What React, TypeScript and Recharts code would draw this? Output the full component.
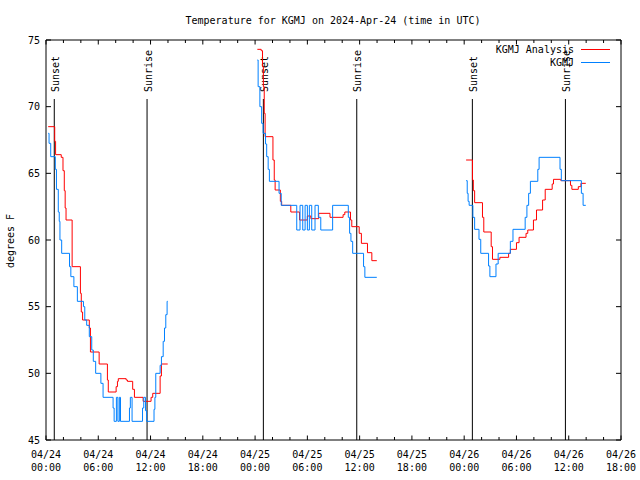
import { LineChart, Line, XAxis, YAxis, ReferenceLine } from 'recharts';

// hours since 2024-04-24 00:00 UTC -> temperature (F); null breaks the line
const analysis = [
    { t: 0.25, v: 68.5 }, { t: 1.0, v: 67.4 }, { t: 1.1, v: 66.4 }, { t: 1.75, v: 66.2 },
    { t: 1.95, v: 65.2 }, { t: 2.1, v: 63.7 }, { t: 2.2, v: 62.4 }, { t: 2.3, v: 61.5 },
    { t: 3.0, v: 58.0 }, { t: 3.95, v: 56.0 }, { t: 4.05, v: 54.6 }, { t: 4.2, v: 54.0 },
    { t: 4.97, v: 53.4 }, { t: 5.1, v: 51.6 }, { t: 6.1, v: 50.7 }, { t: 7.05, v: 49.5 },
    { t: 7.15, v: 48.6 }, { t: 8.05, v: 49.0 }, { t: 8.2, v: 49.4 }, { t: 8.3, v: 49.6 },
    { t: 9.2, v: 49.5 }, { t: 9.35, v: 49.4 }, { t: 9.95, v: 48.8 }, { t: 10.15, v: 48.2 },
    { t: 11.15, v: 47.9 }, { t: 12.06, v: 48.2 }, { t: 12.25, v: 48.5 }, { t: 13.1, v: 49.8 },
    { t: 13.25, v: 50.7 }, { t: 13.97, v: 50.7 },
    { t: 19, v: null },
    { t: 24.26, v: 74.3 }, { t: 24.7, v: 74.2 }, { t: 24.85, v: 73.0 }, { t: 24.95, v: 71.5 },
    { t: 25.05, v: 69.5 }, { t: 25.15, v: 67.75 }, { t: 26.05, v: 66.0 }, { t: 26.2, v: 64.5 },
    { t: 26.3, v: 63.75 }, { t: 26.9, v: 62.9 }, { t: 27.05, v: 62.6 }, { t: 28.1, v: 62.1 },
    { t: 29.1, v: 61.5 }, { t: 30.0, v: 61.8 }, { t: 30.4, v: 61.6 }, { t: 31.3, v: 62.0 },
    { t: 32.6, v: 61.7 }, { t: 34.1, v: 61.9 }, { t: 34.3, v: 62.1 }, { t: 34.95, v: 61.5 },
    { t: 35.1, v: 61.0 }, { t: 35.95, v: 60.5 }, { t: 36.2, v: 59.75 }, { t: 36.9, v: 59.05 },
    { t: 37.4, v: 58.45 }, { t: 37.97, v: 58.45 },
    { t: 43, v: null },
    { t: 48.22, v: 66.0 }, { t: 48.95, v: 64.5 }, { t: 49.05, v: 63.7 }, { t: 49.2, v: 62.8 },
    { t: 50.1, v: 61.7 }, { t: 50.25, v: 60.6 }, { t: 51.1, v: 59.5 }, { t: 51.25, v: 58.55 },
    { t: 52.1, v: 58.7 }, { t: 53.1, v: 59.0 }, { t: 53.3, v: 59.3 }, { t: 54.0, v: 59.8 },
    { t: 54.3, v: 60.2 }, { t: 55.1, v: 60.5 }, { t: 55.3, v: 60.75 }, { t: 55.95, v: 61.5 },
    { t: 56.3, v: 62.25 }, { t: 57.0, v: 63.0 }, { t: 57.3, v: 63.8 }, { t: 58.1, v: 64.2 },
    { t: 58.25, v: 64.55 }, { t: 59.1, v: 64.45 }, { t: 60.2, v: 64.1 }, { t: 60.36, v: 63.8 },
    { t: 61.1, v: 64.0 }, { t: 61.4, v: 64.25 }, { t: 61.96, v: 64.25 },
];

const observed = [
    { t: 0.26, v: 68.0 }, { t: 0.35, v: 67.25 }, { t: 0.54, v: 66.25 }, { t: 1.07, v: 65.3 },
    { t: 1.2, v: 63.8 }, { t: 1.41, v: 62.1 }, { t: 1.52, v: 61.4 }, { t: 1.6, v: 60.0 },
    { t: 1.8, v: 59.0 }, { t: 2.7, v: 58.0 }, { t: 2.85, v: 57.25 }, { t: 3.2, v: 56.5 },
    { t: 3.6, v: 55.4 }, { t: 4.3, v: 55.0 }, { t: 4.45, v: 54.0 }, { t: 4.67, v: 53.6 },
    { t: 4.97, v: 52.75 }, { t: 5.25, v: 51.75 }, { t: 5.43, v: 50.9 }, { t: 5.7, v: 50.0 },
    { t: 6.3, v: 49.25 }, { t: 6.55, v: 48.2 }, { t: 7.7, v: 47.4 }, { t: 7.82, v: 46.4 },
    { t: 8.08, v: 48.2 }, { t: 8.25, v: 46.4 }, { t: 8.42, v: 48.2 }, { t: 8.55, v: 46.4 },
    { t: 9.58, v: 47.4 }, { t: 9.68, v: 48.2 }, { t: 9.88, v: 46.4 }, { t: 11.08, v: 47.4 },
    { t: 11.22, v: 48.2 }, { t: 11.42, v: 47.2 }, { t: 11.55, v: 46.4 }, { t: 12.4, v: 47.3 },
    { t: 12.5, v: 48.2 }, { t: 12.6, v: 50.0 }, { t: 13.1, v: 50.6 }, { t: 13.25, v: 51.25 },
    { t: 13.45, v: 52.4 }, { t: 13.6, v: 53.4 }, { t: 13.75, v: 54.4 }, { t: 13.9, v: 55.4 },
    { t: 13.97, v: 55.4 },
    { t: 19, v: null },
    { t: 24.26, v: 73.5 }, { t: 24.35, v: 71.5 }, { t: 24.55, v: 70.0 }, { t: 24.75, v: 68.75 },
    { t: 24.92, v: 68.0 }, { t: 25.2, v: 67.2 }, { t: 25.33, v: 66.25 }, { t: 25.5, v: 65.3 },
    { t: 25.64, v: 64.4 }, { t: 26.75, v: 63.5 }, { t: 27.0, v: 62.6 }, { t: 28.78, v: 60.75 },
    { t: 29.16, v: 62.6 }, { t: 29.47, v: 60.75 }, { t: 29.74, v: 62.6 }, { t: 30.0, v: 60.75 },
    { t: 30.23, v: 62.6 }, { t: 30.5, v: 60.75 }, { t: 30.88, v: 62.6 }, { t: 31.26, v: 61.7 },
    { t: 31.54, v: 60.75 }, { t: 32.9, v: 62.6 }, { t: 34.7, v: 61.7 }, { t: 34.85, v: 60.5 },
    { t: 35.0, v: 59.9 }, { t: 35.2, v: 59.0 }, { t: 36.45, v: 58.0 }, { t: 36.6, v: 57.2 },
    { t: 37.97, v: 57.2 },
    { t: 43, v: null },
    { t: 48.22, v: 64.45 }, { t: 48.35, v: 63.5 }, { t: 48.45, v: 62.9 }, { t: 48.57, v: 62.6 },
    { t: 49.0, v: 61.7 }, { t: 49.2, v: 60.8 }, { t: 49.7, v: 60.05 }, { t: 49.9, v: 59.0 },
    { t: 50.8, v: 58.05 }, { t: 50.95, v: 57.25 }, { t: 51.65, v: 58.2 }, { t: 51.9, v: 59.0 },
    { t: 53.3, v: 59.9 }, { t: 53.6, v: 60.8 }, { t: 55.0, v: 61.7 }, { t: 55.2, v: 62.6 },
    { t: 55.4, v: 63.5 }, { t: 55.6, v: 64.4 }, { t: 56.45, v: 65.3 }, { t: 56.6, v: 66.2 },
    { t: 59.0, v: 65.3 }, { t: 59.15, v: 64.45 }, { t: 61.45, v: 63.5 }, { t: 61.65, v: 62.6 },
    { t: 61.96, v: 62.6 },
];

const sunEvents = [
    { t: 0.95, label: 'Sunset' },
    { t: 11.6, label: 'Sunrise' },
    { t: 24.95, label: 'Sunset' },
    { t: 35.67, label: 'Sunrise' },
    { t: 48.94, label: 'Sunset' },
    { t: 59.62, label: 'Sunrise' },
];
const sunLineTop = 70.575;

const xTicks = Array.from({ length: 34 }, (_, i) => i * 2);
const yTicks = [45, 50, 55, 60, 65, 70, 75];

const FONT = 'DejaVu Sans Mono';
const RED = '#ff0000';
const BLUE = '#0080ff';

const pad = (n: number) => String(n).padStart(2, '0');

function BottomTick({ x, y, payload }: any) {
    const h = payload.value;
    const major = h % 6 === 0;
    return (
        <g>
            <line x1={x} y1={y} x2={x} y2={y - (major ? 4.5 : 3)} stroke="#000" />
            {major && (
                <text x={x} fontFamily={FONT} fontSize={10} textAnchor="middle" fill="#000">
                    <tspan x={x} y={y + 17.5}>{`04/${24 + Math.floor(h / 24)}`}</tspan>
                    <tspan x={x} y={y + 30.7}>{`${pad(h % 24)}:00`}</tspan>
                </text>
            )}
        </g>
    );
}

function TopTick({ x, y, payload }: any) {
    const major = payload.value % 6 === 0;
    return <line x1={x} y1={y} x2={x} y2={y + (major ? 4.5 : 3)} stroke="#000" />;
}

function LeftTick({ x, y, payload }: any) {
    return (
        <g>
            <line x1={x} y1={y} x2={x + 5} y2={y} stroke="#000" />
            <text x={x - 6} y={y + 3.5} fontFamily={FONT} fontSize={10} textAnchor="end" fill="#000">
                {payload.value}
            </text>
        </g>
    );
}

function RightTick({ x, y }: any) {
    return <line x1={x} y1={y} x2={x - 5} y2={y} stroke="#000" />;
}

function SunLabel({ viewBox, text }: any) {
    const x = viewBox.x + 4.5;
    const y = viewBox.y - 7;
    return (
        <text x={x} y={y} transform={`rotate(-90 ${x} ${y})`} fontFamily={FONT} fontSize={10} fill="#000">
            {text}
        </text>
    );
}

export default function App() {
    return (
        <div style={{ position: 'absolute', left: 0, top: 0, width: 640, height: 480, background: '#fff' }}>
            <LineChart width={640} height={480} margin={{ top: 30, right: 9, bottom: 10, left: 6 }}>
                <XAxis xAxisId="bottom" dataKey="t" type="number" domain={[0, 66]} ticks={xTicks} interval={0}
                    allowDataOverflow height={30} tickSize={0} tickMargin={0} tickLine={false}
                    axisLine={{ stroke: '#000' }} tick={BottomTick} />
                <XAxis xAxisId="top" orientation="top" dataKey="t" type="number" domain={[0, 66]} ticks={xTicks}
                    interval={0} allowDataOverflow height={10} tickSize={0} tickMargin={0} tickLine={false}
                    axisLine={{ stroke: '#000' }} tick={TopTick} />
                <YAxis yAxisId="left" type="number" domain={[45, 75]} ticks={yTicks} interval={0}
                    allowDataOverflow width={40} tickSize={0} tickMargin={0} tickLine={false}
                    axisLine={{ stroke: '#000' }} tick={LeftTick} />
                <YAxis yAxisId="right" orientation="right" type="number" domain={[45, 75]} ticks={yTicks}
                    interval={0} allowDataOverflow width={10} tickSize={0} tickMargin={0} tickLine={false}
                    axisLine={{ stroke: '#000' }} tick={RightTick} />

                {sunEvents.map((s, i) => (
                    <ReferenceLine key={i} xAxisId="bottom" yAxisId="left" stroke="#000" strokeWidth={1}
                        segment={[{ x: s.t, y: sunLineTop }, { x: s.t, y: 45 }]}
                        label={(p: any) => <SunLabel {...p} text={s.label} />} />
                ))}

                <Line xAxisId="bottom" yAxisId="left" data={analysis} dataKey="v" type="stepAfter"
                    stroke={RED} strokeWidth={1} dot={false} isAnimationActive={false} />
                <Line xAxisId="bottom" yAxisId="left" data={observed} dataKey="v" type="stepAfter"
                    stroke={BLUE} strokeWidth={1} dot={false} isAnimationActive={false} />
            </LineChart>

            <svg width={640} height={480} style={{ position: 'absolute', left: 0, top: 0, pointerEvents: 'none' }}>
                <text x={333} y={24} fontFamily={FONT} fontSize={10} textAnchor="middle" fill="#000">
                    Temperature for KGMJ on 2024-Apr-24 (time in UTC)
                </text>
                <text x={14} y={241} transform="rotate(-90 14 241)" fontFamily={FONT} fontSize={10}
                    textAnchor="middle" fill="#000">
                    degrees F
                </text>
                <text x={574} y={53} fontFamily={FONT} fontSize={10} textAnchor="end" fill="#000">KGMJ Analysis</text>
                <line x1={581} y1={49.5} x2={610} y2={49.5} stroke={RED} />
                <text x={574} y={66} fontFamily={FONT} fontSize={10} textAnchor="end" fill="#000">KGMJ</text>
                <line x1={581} y1={62.5} x2={610} y2={62.5} stroke={BLUE} />
            </svg>
        </div>
    );
}
